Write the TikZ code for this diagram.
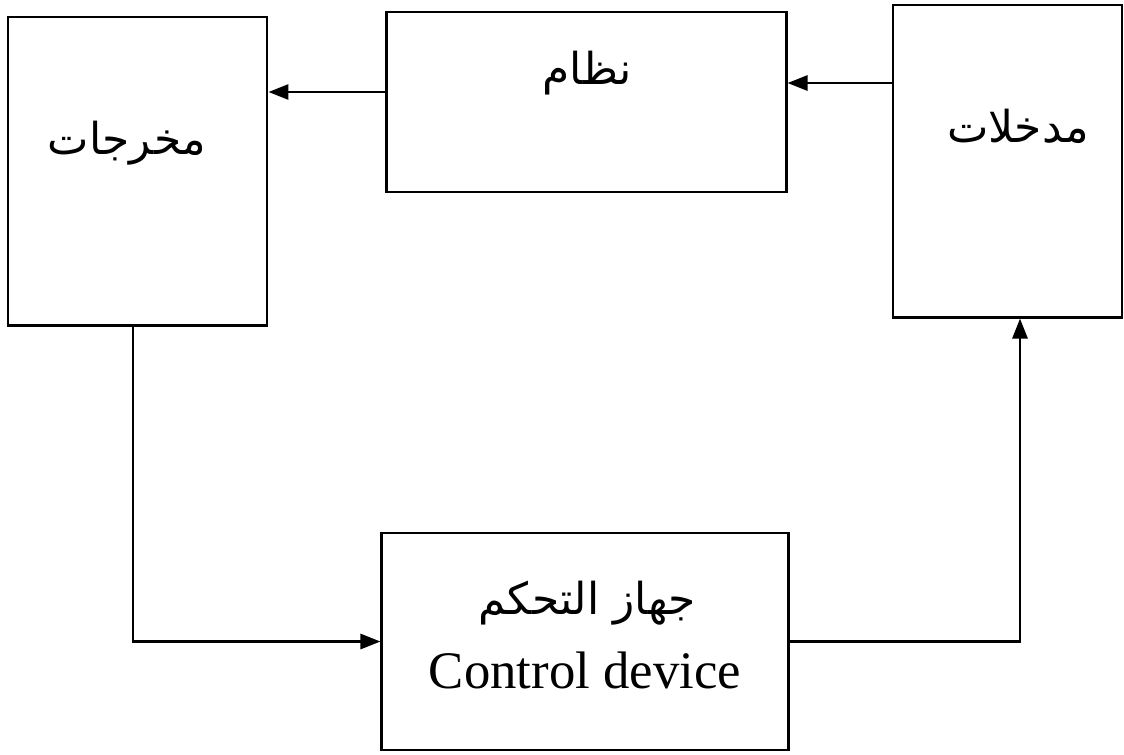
\documentclass[tikz,border=0pt]{standalone}
\usepackage{fontspec}
\setmainfont{Liberation Serif}
\newfontfamily\arabicfont[Script=Arabic]{DejaVu Sans}
\TeXXeTstate=1
\usetikzlibrary{arrows.meta, positioning, calc}

\begin{document}
\begin{tikzpicture}[x=0.01cm, y=-0.01cm,
    blockbox/.style={draw, line width=0.8pt, inner sep=0pt},
    arlabel/.style={font=\arabicfont\fontsize{12.5}{15}\selectfont},
    flow/.style={line width=0.8pt, -{Triangle[length=0.2cm, width=0.15cm]}}]
  \useasboundingbox (0,0) rectangle (1124,754);

  % blocks
  \node[blockbox, minimum width=2.59cm, minimum height=3.08cm] (outputs) at (137.5,171) {};
  \node[blockbox, minimum width=3.99cm, minimum height=1.80cm] (system) at (586.5,102) {};
  \node[blockbox, minimum width=2.29cm, minimum height=3.12cm] (inputs) at (1007.5,161) {};
  \node[blockbox, minimum width=4.06cm, minimum height=2.17cm] (controller) at (585,641.5) {};

  % labels
  \node[arlabel] (outtext) at (127,143) {\beginR مخرجات\endR};
  \node[arlabel] (systext) at (587,73) {\beginR نظام\endR};
  \node[arlabel] (intext) at (1018,126) {\beginR مدخلات\endR};
  \node[arlabel] (ctrltext) at (587,603) {\beginR جهاز التحكم\endR};
  \node[font=\fontsize{15}{18}\selectfont] (ctrlname) at (585,670) {Control device};

  % connectors
  \draw[flow] (system.west |- 0,92) -- (outputs.east |- 0,92);
  \draw[flow] (inputs.west |- 0,83) -- (system.east |- 0,83);
  \draw[flow] (outputs.south -| 133,0) |- (controller.west);
  \draw[flow] (controller.east) -| (inputs.south -| 1020,0);
\end{tikzpicture}
\end{document}
